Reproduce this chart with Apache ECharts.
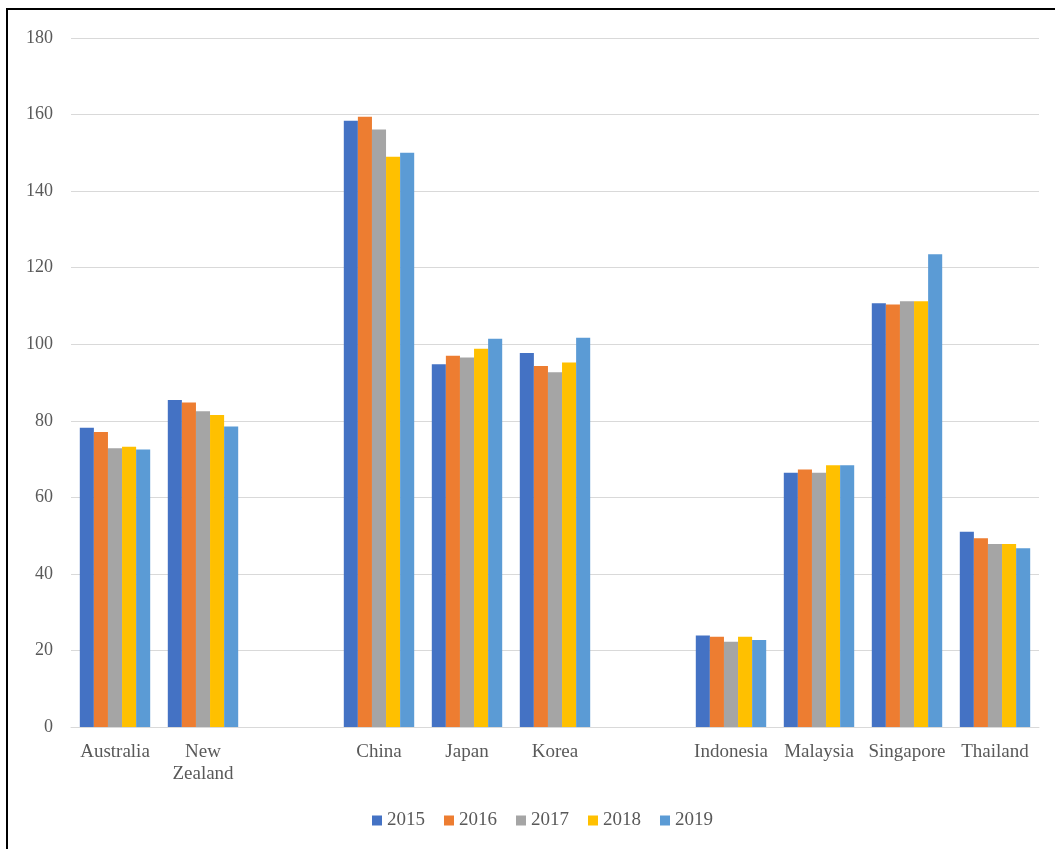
<!DOCTYPE html>
<html>
<head>
<meta charset="utf-8">
<script src="https://cdn.jsdelivr.net/npm/echarts@6/dist/echarts.min.js"></script>
<style>html,body{margin:0;padding:0;background:#fff}#c{width:1055px;height:849px}</style>
</head>
<body>
<div id="c"></div>
<script>
const categories = ['Australia', 'New\nZealand', '', 'China', 'Japan', 'Korea', '', 'Indonesia', 'Malaysia', 'Singapore', 'Thailand'];
const years = ['2015', '2016', '2017', '2018', '2019'];
const v2015 = [78.2, 85.4, null, 158.4, 94.8, 97.7, null, 23.9, 66.4, 110.7, 51.0];
const v2016 = [77.1, 84.8, null, 159.4, 97.0, 94.3, null, 23.6, 67.3, 110.4, 49.3];
const v2017 = [72.8, 82.5, null, 156.1, 96.5, 92.7, null, 22.3, 66.4, 111.2, 47.8];
const v2018 = [73.2, 81.5, null, 149.0, 98.8, 95.2, null, 23.6, 68.4, 111.2, 47.8];
const v2019 = [72.5, 78.5, null, 150.0, 101.4, 101.7, null, 22.7, 68.4, 123.5, 46.7];
const colors = ['#4472C4', '#ED7D31', '#A5A5A5', '#FFC000', '#5B9BD5'];
const seriesValues = [v2015, v2016, v2017, v2018, v2019];

const font = 'Liberation Serif';
const chart = echarts.init(document.getElementById('c'), null, {renderer: 'canvas'});
chart.setOption({
  animation: false,
  backgroundColor: '#fff',
  color: colors,
  graphic: [{
    type: 'rect', shape: {x: 7, y: 9, width: 1200, height: 1000},
    style: {fill: 'none', stroke: '#000', lineWidth: 2}, silent: true, z: 100
  }],
  grid: {left: 71, right: 16, top: 38, bottom: 122},
  legend: {
    bottom: 14, left: 367,
    itemWidth: 10, itemHeight: 10, itemGap: 19,
    icon: 'rect',
    textStyle: {fontFamily: font, fontSize: 19, color: '#595959'},
    data: years
  },
  xAxis: {
    type: 'category', data: categories,
    axisLine: {lineStyle: {color: '#D9D9D9', width: 1}},
    axisTick: {show: false},
    axisLabel: {fontFamily: font, fontSize: 19, color: '#595959', margin: 14, lineHeight: 22, interval: 0}
  },
  yAxis: {
    type: 'value', min: 0, max: 180, interval: 20,
    axisLine: {show: false}, axisTick: {show: false},
    axisLabel: {fontFamily: font, fontSize: 18, color: '#595959', margin: 18},
    splitLine: {lineStyle: {color: '#D9D9D9', width: 1}}
  },
  series: years.map((y, i) => ({
    name: y, type: 'bar', data: seriesValues[i],
    barGap: '0%', barCategoryGap: '20%',
    itemStyle: {color: colors[i]}
  }))
});
</script>
</body>
</html>
